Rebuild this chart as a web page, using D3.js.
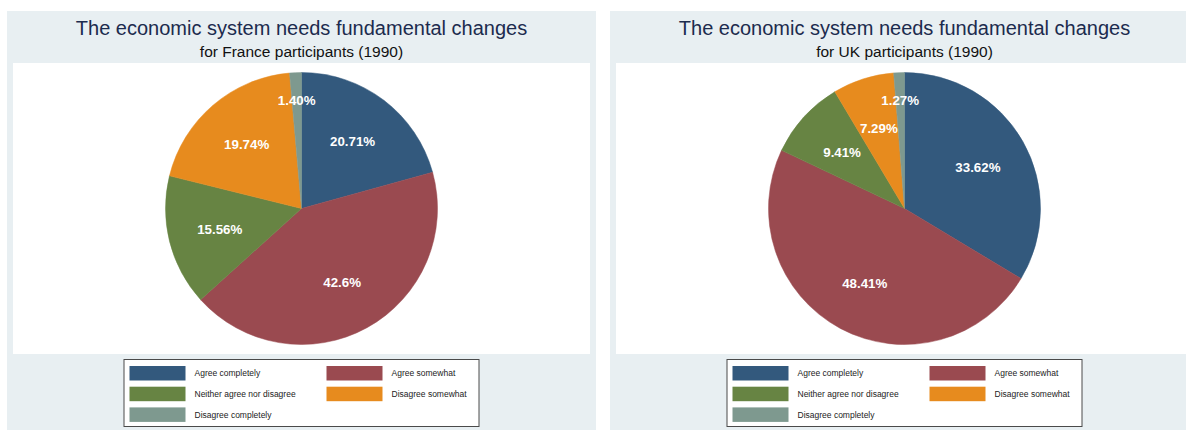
<!DOCTYPE html>
<html>
<head>
<meta charset="utf-8">
<script src="https://cdn.jsdelivr.net/npm/d3@7"></script>
<style>
  html, body { margin: 0; padding: 0; background: #ffffff; }
  svg { display: block; font-family: "Liberation Sans", Arial, Helvetica, sans-serif; }
</style>
</head>
<body>
<svg id="chart" width="1186" height="430"></svg>
<script>
// Response categories (legend order) and their slice colours
const categories = [
  "Agree completely",
  "Agree somewhat",
  "Neither agree nor disagree",
  "Disagree somewhat",
  "Disagree completely"
];
const colors = ["#33597d", "#9a4a50", "#678443", "#e78b1e", "#7e998f"];

// Share of participants per category (%)
const franceValues = [20.71, 42.6, 15.56, 19.74, 1.40];
const ukValues = [33.62, 48.41, 9.41, 7.29, 1.27];

// Slice labels as printed
const franceLabels = ["20.71%", "42.6%", "15.56%", "19.74%", "1.40%"];
const ukLabels = ["33.62%", "48.41%", "9.41%", "7.29%", "1.27%"];

const title = "The economic system needs fundamental changes";
const subtitles = ["for France participants (1990)", "for UK participants (1990)"];

const panels = [
  { x0: 7, values: franceValues, labels: franceLabels, subtitle: subtitles[0] },
  { x0: 610, values: ukValues, labels: ukLabels, subtitle: subtitles[1] }
];

const svg = d3.select("#chart");
const panelW = 589, panelTop = 11, panelBottom = 430;
const plotTop = 63, plotBottom = 354, plotInset = 6;
const radius = 136;

const pie = d3.pie().sort(null).value(d => d.value).startAngle(0).endAngle(2 * Math.PI);
const arc = d3.arc().innerRadius(0).outerRadius(radius);

panels.forEach(p => {
  const g = svg.append("g");
  const cx = p.x0 + panelW / 2;
  const cy = (plotTop + plotBottom) / 2;

  // panel background and plot region
  g.append("rect")
    .attr("x", p.x0).attr("y", panelTop)
    .attr("width", panelW).attr("height", panelBottom - panelTop)
    .attr("fill", "#e8eff2");
  g.append("rect")
    .attr("x", p.x0 + plotInset).attr("y", plotTop)
    .attr("width", panelW - 2 * plotInset).attr("height", plotBottom - plotTop)
    .attr("fill", "#ffffff");

  // titles
  g.append("text")
    .attr("x", cx).attr("y", 35)
    .attr("text-anchor", "middle")
    .attr("font-size", 20)
    .attr("fill", "#1c2b4e")
    .text(title);
  g.append("text")
    .attr("x", cx).attr("y", 56.5)
    .attr("text-anchor", "middle")
    .attr("font-size", 15.5)
    .attr("fill", "#111111")
    .text(p.subtitle);

  // pie slices
  const data = categories.map((c, i) => ({ cat: c, value: p.values[i], label: p.labels[i], color: colors[i] }));
  const arcs = pie(data);
  const pg = g.append("g").attr("transform", `translate(${cx},${cy})`);
  pg.selectAll("path.slice")
    .data(arcs)
    .join("path")
    .attr("class", "slice")
    .attr("d", arc)
    .attr("fill", d => d.data.color)
    .attr("stroke", d => d.data.color)
    .attr("stroke-width", 0.5);

  // percentage labels; thin slices get their label pushed further out
  const total = d3.sum(p.values);
  pg.selectAll("text.plabel")
    .data(arcs)
    .join("text")
    .attr("class", "plabel")
    .attr("transform", d => {
      const share = d.data.value / total;
      const lr = share < 0.05 ? radius * 0.8 : radius * 0.62;
      const c = d3.arc().innerRadius(lr).outerRadius(lr).centroid(d);
      return `translate(${c[0]},${c[1]})`;
    })
    .attr("text-anchor", "middle")
    .attr("dy", "0.36em")
    .attr("font-size", 13.3)
    .attr("font-weight", "bold")
    .attr("fill", "#ffffff")
    .text(d => d.data.label);

  // legend
  const lgW = 356, lgH = 68, lgX = cx - lgW / 2, lgY = 359;
  const lg = g.append("g").attr("transform", `translate(${lgX},${lgY})`);
  lg.append("rect")
    .attr("x", 0.5).attr("y", 0.5)
    .attr("width", lgW - 1).attr("height", lgH - 1)
    .attr("fill", "#ffffff")
    .attr("stroke", "#4a4a4a")
    .attr("stroke-width", 1);
  const colX = [6, 203];
  const rowY = [7, 27.7, 48.4];
  const items = lg.selectAll("g.item")
    .data(categories)
    .join("g")
    .attr("class", "item")
    .attr("transform", (d, i) => `translate(${colX[i % 2]},${rowY[Math.floor(i / 2)]})`);
  items.append("rect")
    .attr("width", 56).attr("height", 14.5)
    .attr("fill", (d, i) => colors[i]);
  items.append("text")
    .attr("x", 65).attr("y", 7.25)
    .attr("dy", "0.35em")
    .attr("font-size", 8.5)
    .attr("fill", "#222222")
    .text(d => d);
});
</script>
</body>
</html>
